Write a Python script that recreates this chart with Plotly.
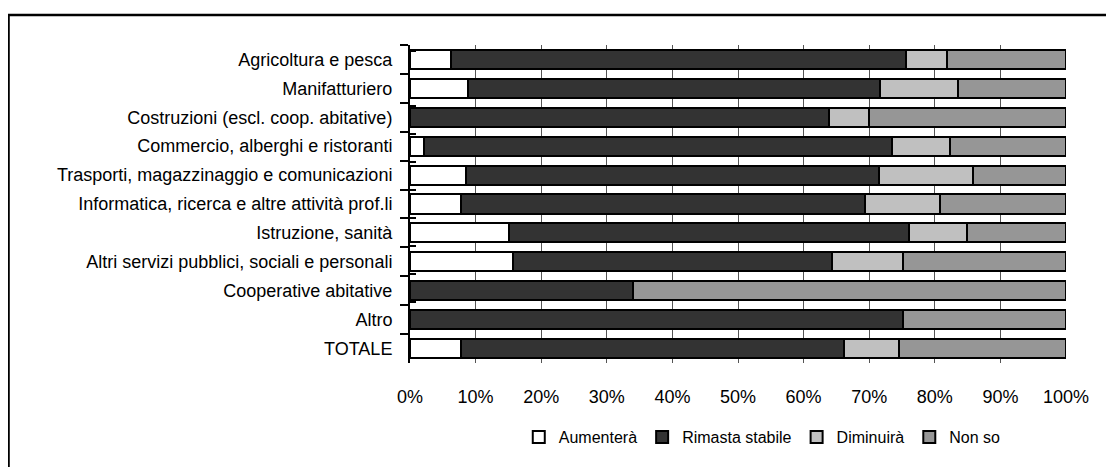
import plotly.graph_objects as go

# settori (dall'alto verso il basso)
settori = [
    "Agricoltura e pesca",
    "Manifatturiero",
    "Costruzioni (escl. coop. abitative)",
    "Commercio, alberghi e ristoranti",
    "Trasporti, magazzinaggio e comunicazioni",
    "Informatica, ricerca e altre attività prof.li",
    "Istruzione, sanità",
    "Altri servizi pubblici, sociali e personali",
    "Cooperative abitative",
    "Altro",
    "TOTALE",
]

# quote percentuali
aumentera = [6.3, 8.9, 0.0, 2.2, 8.5, 7.7, 15.1, 15.7, 0.0, 0.0, 7.7]
stabile = [69.3, 62.8, 63.8, 71.2, 63.0, 61.7, 61.0, 48.6, 34.0, 75.2, 58.4]
diminuira = [6.3, 11.8, 6.2, 8.9, 14.3, 11.4, 8.8, 10.8, 0.0, 0.0, 8.4]
non_so = [18.1, 16.5, 30.0, 17.7, 14.2, 19.2, 15.1, 24.9, 66.0, 24.8, 25.5]

serie = [
    ("Aumenterà", aumentera, "#FFFFFF"),
    ("Rimasta stabile", stabile, "#333333"),
    ("Diminuirà", diminuira, "#C0C0C0"),
    ("Non so", non_so, "#969696"),
]

FONT = "Liberation Sans, Arial, sans-serif"

fig = go.Figure()
for nome, valori, colore in serie:
    fig.add_trace(go.Bar(
        y=settori, x=[v / 100 for v in valori], name=nome, orientation="h",
        marker=dict(color=colore, line=dict(color="#000000", width=2)),
    ))

# traccia invisibile solo per avere i tick interni dell'asse categorie
fig.add_trace(go.Scatter(
    y=settori, x=[0] * len(settori), yaxis="y2", mode="markers",
    marker=dict(opacity=0), showlegend=False, hoverinfo="skip",
))

# la pagina ha 8px di margine sul body: la figura e' piu' piccola della finestra
fig.update_layout(
    barmode="stack", bargap=0.34,
    width=1106, height=459,
    margin=dict(l=402, r=48, t=37, b=104),
    paper_bgcolor="white", plot_bgcolor="white",
    font=dict(family=FONT, size=18, color="#000000"),
    showlegend=True,
    legend=dict(orientation="h", x=0.537, xanchor="center", y=-0.233, yanchor="middle",
                font=dict(size=16), itemwidth=30, traceorder="normal"),
    xaxis=dict(range=[0, 1], dtick=0.1, tickformat=".0%", showgrid=True,
               gridcolor="#555555", gridwidth=1, zeroline=False, showline=False,
               ticks="", ticklabelstandoff=21, fixedrange=True),
    yaxis=dict(autorange="reversed", showline=True, linecolor="#000000", linewidth=2,
               ticks="outside", tickson="boundaries", ticklen=8, tickwidth=2,
               tickcolor="#000000", showgrid=False, ticklabelstandoff=12,
               fixedrange=True),
    yaxis2=dict(overlaying="y", side="left", autorange="reversed", showline=False,
                ticks="inside", tickson="boundaries", ticklen=6, tickwidth=2,
                tickcolor="#000000", showticklabels=False, showgrid=False,
                zeroline=False, fixedrange=True),
)

# cornice esterna del grafico
fig.add_shape(type="rect", xref="paper", yref="paper",
              x0=-0.612, x1=1.09, y0=-0.36, y1=1.094,
              line=dict(color="#000000", width=2.5), fillcolor="rgba(0,0,0,0)",
              layer="below")

fig.write_html("out.html")
